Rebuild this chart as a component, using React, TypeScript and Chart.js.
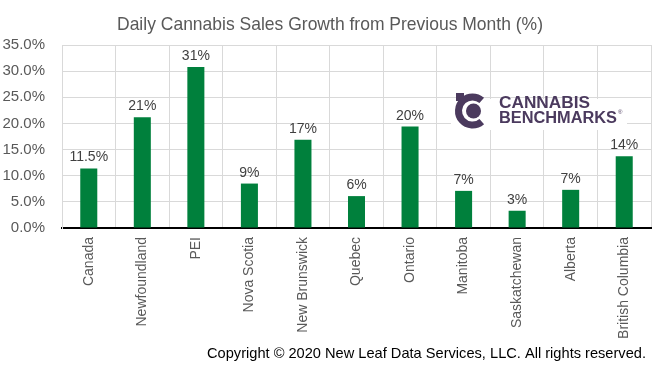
import React, { useEffect, useRef } from "react";
import { Chart, registerables } from "chart.js";

Chart.register(...registerables);

const TITLE = "Daily Cannabis Sales Growth from Previous Month (%)";
const COPYRIGHT = "Copyright © 2020 New Leaf Data Services, LLC. All rights reserved.";
const categories = [
  "Canada",
  "Newfoundland",
  "PEI",
  "Nova Scotia",
  "New Brunswick",
  "Quebec",
  "Ontario",
  "Manitoba",
  "Saskatchewan",
  "Alberta",
  "British Columbia",
];
const growthValues = [11.4, 21.2, 30.8, 8.5, 16.9, 6.1, 19.4, 7.1, 3.3, 7.3, 13.7];
const valueLabels = ["11.5%", "21%", "31%", "9%", "17%", "6%", "20%", "7%", "3%", "7%", "14%"];
const yMin = 0;
const yMax = 35;
const yStep = 5;

const FONT = "'Liberation Sans', Arial, sans-serif";
const GRAY = "#595959";
const GRID = "#d9d9d9";
const BAR = "#00803c";
const PURPLE = "#4b3a5e";

const extrasPlugin = {
  id: "extras",
  afterDatasetsDraw(chart: any) {
    const ctx = chart.ctx;
    const meta = chart.getDatasetMeta(0);
    ctx.save();
    ctx.font = `14px ${FONT}`;
    ctx.fillStyle = "#404040";
    ctx.textAlign = "center";
    ctx.textBaseline = "alphabetic";
    meta.data.forEach((bar: any, i: number) => {
      ctx.fillText(valueLabels[i], bar.x, bar.y - 7);
    });
    ctx.restore();
  },
  afterDraw(chart: any) {
    const ctx = chart.ctx;
    const drawFit = (text: string, font: string, x: number, y: number, w: number, align: string) => {
      ctx.font = font;
      const m = ctx.measureText(text).width;
      const k = w / m;
      ctx.save();
      let x0 = x;
      if (align === "center") x0 = x - w / 2;
      else if (align === "right") x0 = x - w;
      ctx.translate(x0, y);
      ctx.scale(k, 1);
      ctx.textAlign = "left";
      ctx.textBaseline = "alphabetic";
      ctx.fillText(text, 0, 0);
      ctx.restore();
    };
    ctx.save();
    // title
    ctx.fillStyle = GRAY;
    drawFit(TITLE, `19px ${FONT}`, 330, 29.5, 426, "center");
    // copyright
    ctx.fillStyle = "#000000";
    drawFit(COPYRIGHT, `14.5px ${FONT}`, 646, 358, 439, "right");

    // logo
    ctx.fillStyle = "#ffffff";
    ctx.fillRect(451, 99, 176, 31);
    const cx = 472.5;
    const cy = 111;
    ctx.strokeStyle = PURPLE;
    ctx.fillStyle = PURPLE;
    ctx.lineWidth = 7;
    ctx.beginPath();
    ctx.arc(cx, cy, 14, 0.27 * Math.PI, 1.73 * Math.PI);
    ctx.stroke();
    ctx.beginPath();
    ctx.arc(cx + 1, cy, 7.5, 0, Math.PI * 2);
    ctx.fill();
    ctx.fillRect(456, 93, 8, 8);

    drawFit("CANNABIS", `bold 16px ${FONT}`, 499, 107.5, 91, "left");
    drawFit("BENCHMARKS", `bold 16px ${FONT}`, 499, 122.5, 118, "left");
    ctx.font = `6px ${FONT}`;
    ctx.textAlign = "left";
    ctx.fillText("®", 618, 114);
    ctx.restore();
  },
};

export default function App() {
  const ref = useRef<HTMLCanvasElement | null>(null);
  useEffect(() => {
    if (!ref.current) return;
    const chart = new Chart(ref.current, {
      type: "bar",
      data: {
        labels: categories,
        datasets: [
          {
            data: growthValues,
            backgroundColor: BAR,
            borderWidth: 0,
            barPercentage: 0.318,
            categoryPercentage: 1,
          },
        ],
      },
      options: {
        responsive: false,
        animation: false,
        layout: { padding: { top: 45, right: 11, bottom: 0, left: 0 } },
        plugins: {
          legend: { display: false },
          title: { display: false },
          tooltip: { enabled: false },
        },
        scales: {
          x: {
            grid: { color: GRID, drawTicks: false, offset: true },
            border: { color: "#000000", width: 2 },
            ticks: {
              color: GRAY,
              font: { size: 14, family: FONT },
              minRotation: 90,
              maxRotation: 90,
              padding: 9,
              autoSkip: false,
            },
            afterFit(scale: any) {
              scale.height = 139;
            },
          },
          y: {
            min: yMin,
            max: yMax,
            grid: {
              color: (c: any) => (c.tick && c.tick.value === 0 ? "rgba(0,0,0,0)" : GRID),
              drawTicks: false,
            },
            border: { color: GRID, width: 1 },
            ticks: {
              stepSize: yStep,
              color: GRAY,
              font: { size: 15, family: FONT },
              padding: 17,
              callback: (v: any) => Number(v).toFixed(1) + "%",
            },
            afterFit(scale: any) {
              scale.width = 62;
            },
          },
        },
      },
      plugins: [extrasPlugin],
    });
    return () => chart.destroy();
  }, []);
  return (
    <div style={{ position: "fixed", left: 0, top: 0, width: 662, height: 367, background: "#fff" }}>
      <canvas ref={ref} width={662} height={367} style={{ display: "block" }} />
    </div>
  );
}
